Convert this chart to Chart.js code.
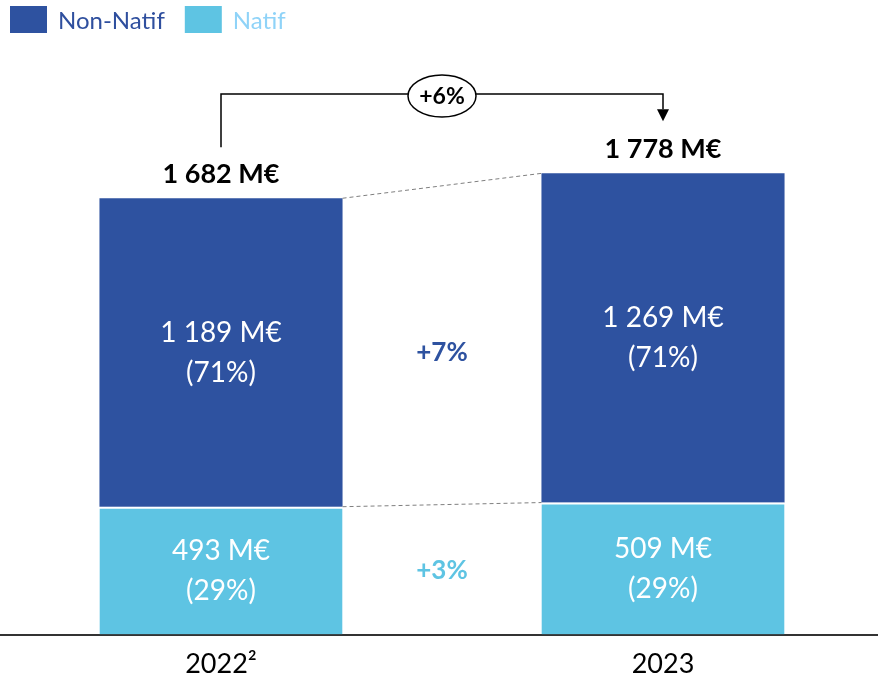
<!DOCTYPE html>
<html>
<head>
<meta charset="utf-8">
<script src="https://cdn.jsdelivr.net/npm/chart.js@4.4.0/dist/chart.umd.min.js"></script>
<style>
html, body { margin: 0; padding: 0; background: #fff; overflow: hidden; }
#wrap { width: 884px; height: 693px; }
</style>
</head>
<body>
<div id="wrap"><canvas id="chart"></canvas></div>
<script>
// data
const years = ['2022²', '2023'];
const natif = [493, 509];
const nonNatif = [1189, 1269];
const natifShare = [29, 29];
const nonNatifShare = [71, 71];
const totalGrowth = '+6%';
const nonNatifGrowth = '+7%';
const natifGrowth = '+3%';

const DARK = '#2E52A0';
const LIGHT = '#5EC4E3';
const FONT = 'Lato, "Open Sans", sans-serif';

function fmt(v) {
    return String(v).replace(/\B(?=(\d{3})+(?!\d))/g, ' ') + ' M€';
}

// labels, connectors, bracket and legend drawn on top of the bars
const overlay = {
    id: 'overlay',
    afterDraw(chart) {
        const ctx = chart.ctx;
        const lo = chart.getDatasetMeta(0).data;
        const hi = chart.getDatasetMeta(1).data;
        ctx.save();
        ctx.textAlign = 'center';
        ctx.textBaseline = 'middle';

        // values inside the segments
        ctx.fillStyle = '#fff';
        ctx.font = '28px ' + FONT;
        hi.forEach((b, i) => {
            const cy = (b.y + b.base) / 2;
            ctx.fillText(fmt(nonNatif[i]), b.x, cy - 20);
            ctx.fillText('(' + nonNatifShare[i] + '%)', b.x, cy + 20);
        });
        lo.forEach((b, i) => {
            const cy = (b.y + b.base) / 2;
            ctx.fillText(fmt(natif[i]), b.x, cy - 20);
            ctx.fillText('(' + natifShare[i] + '%)', b.x, cy + 20);
        });

        // totals
        ctx.fillStyle = '#000';
        ctx.font = 'bold 27px ' + FONT;
        hi.forEach((b, i) => ctx.fillText(fmt(natif[i] + nonNatif[i]), b.x, b.y - 24));

        // dashed connectors
        ctx.strokeStyle = '#7f7f7f';
        ctx.lineWidth = 1;
        ctx.setLineDash([4, 3]);
        [hi, lo].forEach(d => {
            ctx.beginPath();
            ctx.moveTo(d[0].x + d[0].width / 2, d[0].y);
            ctx.lineTo(d[1].x - d[1].width / 2, d[1].y);
            ctx.stroke();
        });
        ctx.setLineDash([]);

        // growth between bars
        const midX = (hi[0].x + hi[1].x) / 2;
        ctx.font = 'bold 26px ' + FONT;
        ctx.fillStyle = DARK;
        ctx.fillText(nonNatifGrowth, midX, (hi[0].y + hi[0].base) / 2);
        ctx.fillStyle = LIGHT;
        ctx.fillText(natifGrowth, midX, (lo[0].y + lo[0].base) / 2);

        // bracket with arrow
        const topY = 94;
        const x0 = hi[0].x, x1 = hi[1].x;
        const tip = hi[1].y - 52;
        ctx.strokeStyle = '#000';
        ctx.fillStyle = '#000';
        ctx.lineWidth = 1.5;
        ctx.beginPath();
        ctx.moveTo(x0, hi[0].y - 51);
        ctx.lineTo(x0, topY);
        ctx.lineTo(x1, topY);
        ctx.lineTo(x1, tip - 12);
        ctx.stroke();
        ctx.beginPath();
        ctx.moveTo(x1 - 6, tip - 12);
        ctx.lineTo(x1 + 6, tip - 12);
        ctx.lineTo(x1, tip);
        ctx.closePath();
        ctx.fill();

        ctx.beginPath();
        ctx.ellipse(midX, topY + 2, 34, 21, 0, 0, Math.PI * 2);
        ctx.fillStyle = '#fff';
        ctx.fill();
        ctx.stroke();
        ctx.fillStyle = '#000';
        ctx.font = 'bold 23px ' + FONT;
        ctx.fillText(totalGrowth, midX, topY + 3);

        // legend
        ctx.textAlign = 'left';
        ctx.font = '24px ' + FONT;
        const items = [
            { text: chart.data.datasets[1].label, box: DARK, color: '#2F4F9E' },
            { text: chart.data.datasets[0].label, box: LIGHT, color: '#8FD3F8' }
        ];
        let x = 10;
        items.forEach(it => {
            ctx.fillStyle = it.box;
            ctx.fillRect(x, 6, 37, 27);
            ctx.fillStyle = it.color;
            ctx.fillText(it.text, x + 48, 21);
            x += 48 + ctx.measureText(it.text).width + 20;
        });
        ctx.restore();
    }
};

new Chart('chart', {
    type: 'bar',
    data: {
        labels: years,
        datasets: [
            {
                label: 'Natif',
                data: natif,
                backgroundColor: LIGHT,
                borderColor: '#fff',
                borderWidth: { top: 2, left: 0, right: 0, bottom: 0 },
                borderSkipped: false,
                categoryPercentage: 1,
                barPercentage: 0.55
            },
            {
                label: 'Non-Natif',
                data: nonNatif,
                backgroundColor: DARK,
                borderWidth: 0,
                categoryPercentage: 1,
                barPercentage: 0.55
            }
        ]
    },
    options: {
        responsive: true,
        maintainAspectRatio: false,
        animation: false,
        layout: { padding: { top: 12, left: 0, right: 0, bottom: 0 } },
        plugins: {
            legend: { display: false },
            tooltip: { enabled: false }
        },
        scales: {
            x: {
                stacked: true,
                grid: { display: false, drawTicks: false },
                border: { color: '#333', width: 2 },
                ticks: { color: '#000', font: { family: FONT, size: 27 }, padding: 13 }
            },
            y: { stacked: true, display: false, min: 0, max: 2400 }
        }
    },
    plugins: [overlay]
});
</script>
</body>
</html>
